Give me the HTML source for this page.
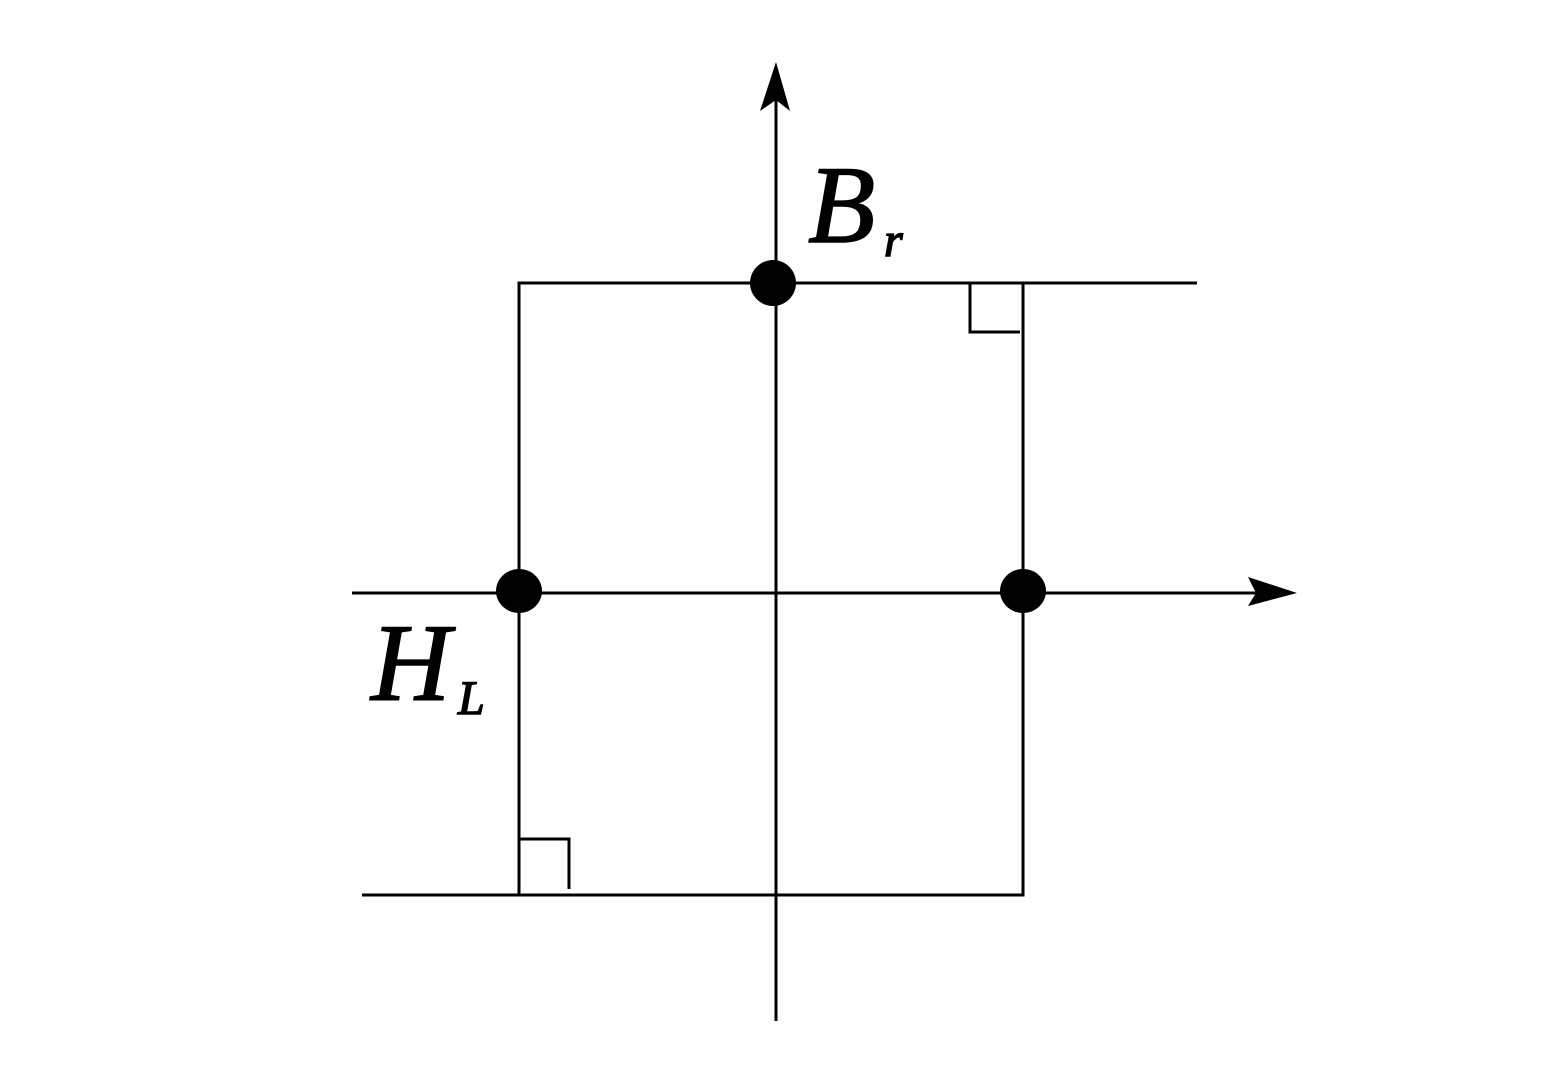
<!DOCTYPE html>
<html><head><meta charset="utf-8"><style>html,body{margin:0;padding:0;background:#fff}svg{display:block}</style></head>
<body>
<svg width="1552" height="1092" viewBox="0 0 1552 1092" xmlns="http://www.w3.org/2000/svg">
<g stroke="#000" stroke-width="3" fill="none">
<line x1="776" y1="80" x2="776" y2="1021"/>
<line x1="352" y1="593" x2="1270" y2="593"/>
<polyline points="519,895 519,283 1197,283"/>
<polyline points="1023,283 1023,895 362,895"/>
<polyline points="970,283 970,332 1020,332"/>
<polyline points="519,839 569,839 569,889"/>
</g>
<polygon points="776,62 790,111 776,100 760,111" fill="#000"/>
<polygon points="1297,593 1248,577 1256,593 1248,606" fill="#000"/>
<ellipse cx="773" cy="283" rx="23" ry="23" fill="#000"/>
<ellipse cx="519" cy="591" rx="23" ry="22" fill="#000"/>
<ellipse cx="1023" cy="591" rx="23" ry="22" fill="#000"/>
<g style="font-family:'Liberation Serif',serif;font-style:italic" fill="#000" stroke="#000" stroke-width="1.5">
<text x="808" y="242" font-size="110">B</text>
<text x="884" y="256" font-size="48">r</text>
<text x="371" y="700" font-size="110">H</text>
<text x="458" y="714" font-size="48">L</text>
</g>
</svg>
</body></html>
